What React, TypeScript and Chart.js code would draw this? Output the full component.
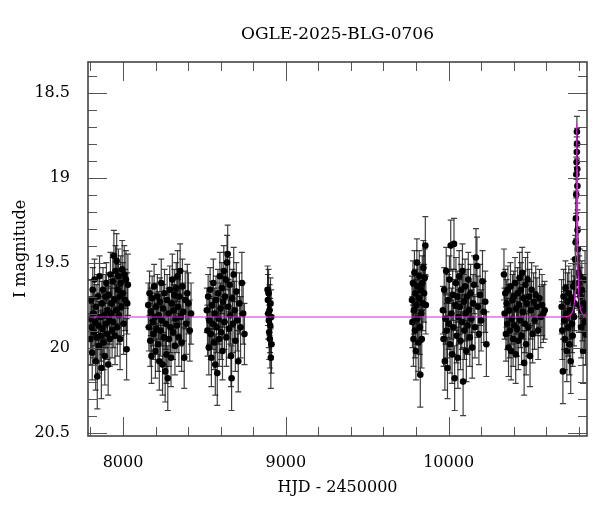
import { useEffect, useRef } from 'react';
import { Chart, registerables } from 'chart.js';

Chart.register(...registerables);

const TITLE = 'OGLE-2025-BLG-0706';
const X_LABEL = 'HJD - 2450000';
const Y_LABEL = 'I magnitude';
const X_MAJOR = [8000, 9000, 10000];
const Y_MAJOR = [18.5, 19, 19.5, 20, 20.5];
const X_MIN = 7785;
const X_MAX = 10850;
const Y_MIN = 18.32;
const Y_MAX = 20.52;

// [HJD-2450000, I mag, error]
const season1 = [
  [7797, 19.83, 0.13], [7800, 19.95, 0.15], [7804, 19.72, 0.12], [7807, 19.88, 0.14], [7811, 20.03, 0.16],
  [7814, 19.66, 0.13], [7818, 19.8, 0.14], [7821, 19.91, 0.15], [7825, 19.6, 0.12], [7828, 19.85, 0.14],
  [7832, 20.08, 0.17], [7835, 19.76, 0.13], [7839, 19.94, 0.15], [7842, 20.17, 0.19], [7846, 19.7, 0.13],
  [7849, 19.87, 0.14], [7853, 19.99, 0.16], [7856, 19.58, 0.12], [7860, 19.82, 0.14], [7863, 19.93, 0.15],
  [7867, 20.12, 0.18], [7870, 19.74, 0.13], [7874, 19.89, 0.15], [7877, 19.66, 0.13], [7881, 19.97, 0.16],
  [7884, 19.81, 0.14], [7888, 20.05, 0.17], [7891, 19.7, 0.13], [7895, 19.86, 0.14], [7898, 19.62, 0.12],
  [7902, 19.92, 0.15], [7905, 19.78, 0.14], [7909, 20.1, 0.18], [7912, 19.69, 0.13], [7916, 19.84, 0.14],
  [7919, 19.95, 0.16], [7923, 19.57, 0.13], [7926, 19.8, 0.15], [7930, 19.74, 0.14], [7933, 19.9, 0.16],
  [7937, 19.61, 0.14], [7940, 19.85, 0.15], [7944, 19.46, 0.15], [7947, 19.72, 0.14], [7951, 19.93, 0.17],
  [7954, 19.55, 0.15], [7958, 19.78, 0.15], [7961, 19.49, 0.16], [7965, 19.88, 0.17], [7968, 19.66, 0.15],
  [7972, 19.58, 0.16], [7975, 19.81, 0.17], [7979, 19.7, 0.16], [7982, 19.95, 0.18], [7986, 19.62, 0.16],
  [7990, 19.76, 0.17], [7995, 19.54, 0.17], [7999, 19.68, 0.18], [8004, 19.86, 0.18], [8008, 19.57, 0.17],
  [8013, 19.72, 0.18], [8018, 19.6, 0.17], [8022, 20.01, 0.18], [8026, 19.74, 0.18], [8030, 19.63, 0.18],
];

const season2 = [
  [8155, 19.75, 0.13], [8159, 19.88, 0.14], [8163, 19.68, 0.13], [8167, 19.96, 0.15], [8171, 19.79, 0.14],
  [8175, 20.05, 0.16], [8179, 19.71, 0.13], [8183, 19.85, 0.14], [8187, 19.92, 0.15], [8191, 19.64, 0.13],
  [8195, 19.82, 0.14], [8199, 20.02, 0.16], [8203, 19.76, 0.14], [8207, 19.89, 0.15], [8211, 19.7, 0.13],
  [8215, 19.98, 0.16], [8219, 19.81, 0.14], [8223, 20.08, 0.17], [8227, 19.73, 0.14], [8231, 19.9, 0.15],
  [8235, 19.62, 0.14], [8239, 19.84, 0.15], [8243, 20.1, 0.18], [8247, 19.77, 0.14], [8251, 19.94, 0.16],
  [8255, 19.68, 0.14], [8259, 20.14, 0.18], [8263, 19.86, 0.15], [8267, 20.04, 0.17], [8271, 19.72, 0.15],
  [8275, 20.18, 0.19], [8279, 19.8, 0.15], [8283, 19.95, 0.16], [8287, 19.66, 0.14], [8291, 19.88, 0.15],
  [8295, 20.06, 0.17], [8299, 19.74, 0.15], [8303, 19.6, 0.15], [8307, 19.91, 0.16], [8311, 19.78, 0.15],
  [8315, 19.69, 0.15], [8319, 19.99, 0.17], [8323, 19.83, 0.16], [8327, 19.65, 0.15], [8331, 19.87, 0.16],
  [8335, 19.58, 0.15], [8339, 19.76, 0.16], [8343, 19.94, 0.17], [8347, 19.7, 0.16], [8351, 19.55, 0.16],
  [8355, 19.82, 0.17], [8360, 19.97, 0.17], [8365, 19.64, 0.16], [8370, 19.79, 0.17], [8376, 20.06, 0.18],
  [8382, 19.72, 0.17], [8388, 19.86, 0.18], [8395, 19.68, 0.17], [8402, 19.74, 0.18], [8410, 19.9, 0.18],
  [8418, 19.8, 0.18],
];

const season3 = [
  [8515, 19.78, 0.13], [8519, 19.9, 0.15], [8523, 19.7, 0.13], [8527, 20.0, 0.16], [8531, 19.84, 0.14],
  [8535, 19.66, 0.13], [8539, 19.92, 0.15], [8543, 20.06, 0.17], [8547, 19.75, 0.14], [8551, 19.86, 0.15],
  [8555, 19.62, 0.14], [8559, 19.97, 0.16], [8563, 19.8, 0.15], [8567, 20.1, 0.18], [8571, 19.72, 0.14],
  [8575, 19.88, 0.15], [8579, 20.15, 0.19], [8583, 19.68, 0.14], [8587, 19.83, 0.15], [8591, 19.95, 0.16],
  [8595, 19.58, 0.14], [8599, 19.77, 0.15], [8603, 19.91, 0.16], [8607, 19.65, 0.15], [8611, 20.02, 0.17],
  [8615, 19.73, 0.15], [8619, 19.55, 0.15], [8623, 19.85, 0.16], [8627, 19.7, 0.15], [8631, 19.6, 0.16],
  [8635, 19.94, 0.17], [8639, 19.5, 0.16], [8643, 19.45, 0.17], [8647, 19.76, 0.16], [8651, 19.89, 0.17],
  [8655, 19.63, 0.16], [8659, 19.81, 0.17], [8663, 20.05, 0.18], [8667, 20.18, 0.19], [8671, 19.71, 0.17],
  [8675, 19.86, 0.17], [8680, 19.57, 0.16], [8685, 19.78, 0.17], [8690, 19.96, 0.18], [8696, 19.67, 0.17],
  [8702, 19.84, 0.18], [8708, 20.08, 0.18], [8715, 19.74, 0.18], [8722, 19.88, 0.18], [8730, 19.62, 0.18],
  [8738, 19.8, 0.18], [8746, 19.92, 0.18],
];

const season4 = [
  [8888, 19.66, 0.14], [8890, 19.72, 0.15], [8892, 19.8, 0.15], [8894, 19.68, 0.14], [8896, 19.84, 0.16],
  [8898, 19.91, 0.16], [8900, 19.78, 0.15], [8902, 19.95, 0.17], [8904, 19.87, 0.16], [8906, 19.74, 0.15],
  [8908, 20.06, 0.18], [8910, 19.82, 0.16], [8912, 19.98, 0.17],
];

const season5 = [
  [9775, 19.72, 0.14], [9778, 19.85, 0.15], [9781, 19.62, 0.13], [9784, 19.95, 0.16], [9787, 19.78, 0.14],
  [9790, 19.56, 0.13], [9793, 19.9, 0.16], [9796, 19.68, 0.14], [9799, 20.02, 0.17], [9802, 19.75, 0.15],
  [9805, 19.5, 0.14], [9808, 19.83, 0.15], [9811, 19.64, 0.14], [9814, 19.97, 0.17], [9817, 19.71, 0.15],
  [9820, 19.58, 0.15], [9823, 19.88, 0.16], [9826, 20.16, 0.19], [9829, 19.66, 0.15], [9832, 19.8, 0.16],
  [9835, 19.95, 0.17], [9838, 19.62, 0.16], [9841, 19.74, 0.16], [9845, 19.53, 0.16], [9849, 19.68, 0.17],
  [9853, 19.59, 0.17], [9857, 19.4, 0.17], [9860, 19.75, 0.17],
];

const season6 = [
  [9965, 19.78, 0.14], [9969, 19.95, 0.16], [9973, 19.66, 0.13], [9977, 20.08, 0.17], [9981, 19.83, 0.15],
  [9985, 19.55, 0.14], [9989, 19.9, 0.16], [9993, 20.12, 0.18], [9997, 19.72, 0.15], [10001, 19.86, 0.15],
  [10005, 19.6, 0.14], [10009, 19.98, 0.17], [10013, 19.4, 0.15], [10017, 19.8, 0.15], [10021, 20.04, 0.17],
  [10025, 19.69, 0.15], [10029, 19.88, 0.16], [10033, 19.39, 0.15], [10037, 20.18, 0.19], [10041, 19.75, 0.15],
  [10045, 19.62, 0.15], [10049, 19.93, 0.16], [10053, 19.7, 0.15], [10057, 20.06, 0.18], [10061, 19.82, 0.16],
  [10065, 19.58, 0.15], [10069, 19.76, 0.16], [10073, 19.96, 0.17], [10077, 19.66, 0.15], [10081, 19.85, 0.16],
  [10085, 19.55, 0.16], [10089, 20.2, 0.2], [10093, 19.73, 0.16], [10097, 19.9, 0.17], [10101, 19.64, 0.16],
  [10105, 19.8, 0.16], [10109, 20.02, 0.18], [10113, 19.7, 0.16], [10117, 19.87, 0.17], [10121, 19.6, 0.16],
  [10125, 19.78, 0.17], [10130, 19.94, 0.17], [10135, 19.68, 0.17], [10140, 19.83, 0.17], [10145, 20.0, 0.18],
  [10150, 19.74, 0.17], [10156, 19.63, 0.17], [10162, 19.88, 0.18], [10168, 19.47, 0.17], [10174, 19.52, 0.17],
  [10180, 19.76, 0.18], [10186, 19.92, 0.18], [10193, 19.69, 0.18], [10200, 19.84, 0.18], [10208, 19.61, 0.18],
  [10216, 19.79, 0.18], [10225, 19.73, 0.18], [10232, 19.98, 0.19],
];

const season7 = [
  [10340, 19.57, 0.15], [10344, 19.8, 0.15], [10348, 19.68, 0.14], [10352, 19.92, 0.16], [10356, 19.74, 0.14],
  [10360, 19.86, 0.15], [10364, 19.66, 0.14], [10368, 20.0, 0.17], [10372, 19.78, 0.15], [10376, 19.9, 0.16],
  [10380, 19.64, 0.14], [10384, 20.02, 0.17], [10388, 19.83, 0.15], [10392, 19.72, 0.15], [10396, 19.95, 0.16],
  [10400, 19.7, 0.15], [10404, 19.87, 0.16], [10408, 19.62, 0.15], [10412, 20.04, 0.17], [10416, 19.77, 0.15],
  [10420, 19.89, 0.16], [10424, 19.68, 0.15], [10428, 19.96, 0.17], [10432, 19.75, 0.16], [10436, 19.59, 0.15],
  [10440, 19.84, 0.16], [10444, 19.66, 0.16], [10448, 19.93, 0.17], [10452, 19.56, 0.15], [10456, 19.79, 0.16],
  [10460, 19.71, 0.16], [10464, 20.09, 0.19], [10468, 19.86, 0.17], [10472, 19.63, 0.16], [10476, 19.98, 0.18],
  [10480, 19.74, 0.16], [10485, 19.6, 0.16], [10490, 19.88, 0.17], [10495, 19.7, 0.16], [10500, 20.05, 0.18],
  [10505, 19.78, 0.17], [10510, 19.66, 0.16], [10516, 19.92, 0.17], [10522, 19.73, 0.17], [10528, 19.84, 0.17],
  [10535, 19.69, 0.17], [10542, 19.76, 0.17], [10550, 19.9, 0.17], [10558, 19.71, 0.17], [10566, 19.82, 0.18],
  [10574, 19.75, 0.18], [10582, 19.8, 0.17], [10590, 19.78, 0.17],
];

const season8 = [
  [10694, 19.76, 0.16], [10698, 19.9, 0.17], [10702, 20.14, 0.19], [10706, 19.7, 0.16], [10710, 19.84, 0.17],
  [10714, 19.95, 0.18], [10718, 19.65, 0.16], [10722, 19.8, 0.17], [10726, 20.02, 0.18], [10730, 19.73, 0.17],
  [10734, 19.88, 0.17], [10738, 19.68, 0.16], [10742, 19.98, 0.18], [10746, 19.78, 0.17], [10750, 20.08, 0.19],
  [10754, 19.71, 0.17], [10758, 19.86, 0.17], [10762, 19.93, 0.18], [10766, 19.64, 0.16], [10770, 19.82, 0.17],
  [10773, 19.74, 0.16],
  [10776, 19.62, 0.15], [10778, 19.48, 0.14], [10780, 19.38, 0.13], [10782, 19.24, 0.12], [10784, 19.1, 0.11],
  [10785, 18.98, 0.1], [10786, 18.91, 0.1], [10787, 18.85, 0.09], [10788, 18.73, 0.09], [10789, 18.8, 0.09],
  [10790, 18.95, 0.1], [10791, 19.05, 0.1], [10792, 19.31, 0.12], [10794, 19.42, 0.13], [10796, 19.56, 0.14],
  [10798, 19.67, 0.15], [10800, 19.75, 0.16],
  [10802, 19.62, 0.16], [10806, 19.58, 0.16], [10810, 19.7, 0.17], [10814, 19.88, 0.18], [10818, 19.66, 0.17],
  [10822, 19.79, 0.17], [10826, 20.02, 0.19], [10830, 19.74, 0.17], [10834, 19.85, 0.18], [10838, 19.6, 0.17],
  [10842, 19.92, 0.18], [10846, 19.77, 0.17],
];

// model light curve (HJD, mag)
const modelT = [7785, 10700, 10740, 10755, 10765, 10772, 10777, 10780, 10782, 10784, 10786, 10787, 10788,
  10789, 10790, 10792, 10794, 10796, 10799, 10804, 10811, 10821, 10836, 10850];
const modelM = [19.82, 19.82, 19.815, 19.8, 19.78, 19.74, 19.67, 19.58, 19.48, 19.33, 19.1, 18.95, 18.68,
  18.95, 19.1, 19.33, 19.48, 19.58, 19.67, 19.74, 19.78, 19.8, 19.815, 19.82];

const SEASONS = [season1, season2, season3, season4, season5, season6, season7, season8];
const FONT = '"DejaVu Serif", "Liberation Serif", serif';

const decorPlugin = {
  id: 'decor',
  beforeDatasetsDraw(chart: any) {
    const { ctx, chartArea: a, scales } = chart;
    const xs = scales.x;
    const ys = scales.y;
    ctx.save();
    ctx.beginPath();
    ctx.rect(a.left, a.top, a.right - a.left, a.bottom - a.top);
    ctx.clip();
    ctx.strokeStyle = 'rgba(15,15,15,0.8)';
    ctx.lineWidth = 1.2;
    for (const s of SEASONS) {
      for (const p of s) {
        const x = xs.getPixelForValue(p[0]);
        const y1 = ys.getPixelForValue(p[1] - p[2]);
        const y2 = ys.getPixelForValue(p[1] + p[2]);
        ctx.beginPath();
        ctx.moveTo(x, y1);
        ctx.lineTo(x, y2);
        ctx.moveTo(x - 3, y1);
        ctx.lineTo(x + 3, y1);
        ctx.moveTo(x - 3, y2);
        ctx.lineTo(x + 3, y2);
        ctx.stroke();
      }
    }
    ctx.restore();
  },
  afterDraw(chart: any) {
    const { ctx, chartArea: a, scales } = chart;
    const xs = scales.x;
    const ys = scales.y;
    ctx.save();
    ctx.strokeStyle = '#555';
    ctx.lineWidth = 1;
    ctx.beginPath();
    for (let v = 7800; v <= X_MAX; v += 200) {
      const x = Math.round(xs.getPixelForValue(v)) + 0.5;
      const len = v % 1000 === 0 ? 19 : 9;
      ctx.moveTo(x, a.top);
      ctx.lineTo(x, a.top + len);
      ctx.moveTo(x, a.bottom);
      ctx.lineTo(x, a.bottom - len);
    }
    for (let i = 184; i <= 205; i++) {
      const v = i / 10;
      if (v < Y_MIN || v > Y_MAX) continue;
      const y = Math.round(ys.getPixelForValue(v)) + 0.5;
      const len = i % 5 === 0 ? 19 : 9;
      ctx.moveTo(a.left, y);
      ctx.lineTo(a.left + len, y);
      ctx.moveTo(a.right, y);
      ctx.lineTo(a.right - len, y);
    }
    ctx.stroke();
    ctx.strokeStyle = '#444';
    ctx.lineWidth = 1.6;
    ctx.strokeRect(a.left, a.top, a.right - a.left, a.bottom - a.top);
    ctx.fillStyle = '#000';
    ctx.textAlign = 'center';
    ctx.textBaseline = 'middle';
    const cx = (a.left + a.right) / 2;
    ctx.font = `17px ${FONT}`;
    ctx.fillText(TITLE, cx, 35);
    ctx.font = `16px ${FONT}`;
    ctx.fillText(X_LABEL, cx, 488);
    ctx.translate(21, (a.top + a.bottom) / 2);
    ctx.rotate(-Math.PI / 2);
    ctx.fillText(Y_LABEL, 0, 0);
    ctx.restore();
  },
};

export default function App() {
  const ref = useRef<HTMLCanvasElement>(null);
  useEffect(() => {
    document.body.style.margin = '0';
    const points = SEASONS.flat().map((p) => ({ x: p[0], y: p[1] }));
    const model = modelT.map((t, i) => ({ x: t, y: modelM[i] }));
    const chart = new Chart(ref.current as HTMLCanvasElement, {
      type: 'scatter',
      data: {
        datasets: [
          {
            label: 'OGLE',
            data: points,
            backgroundColor: '#000',
            borderColor: '#000',
            pointRadius: 3.3,
            borderWidth: 0,
            order: 2,
          },
          {
            label: 'model',
            type: 'line',
            data: model,
            borderColor: '#dd22dd',
            borderWidth: 1.1,
            pointRadius: 0,
            tension: 0,
            fill: false,
            order: 1,
          } as any,
        ],
      },
      options: {
        responsive: false,
        animation: false,
        events: [],
        layout: { padding: { left: 0, right: 13, top: 62, bottom: 0 } },
        plugins: { legend: { display: false }, tooltip: { enabled: false }, title: { display: false } },
        scales: {
          x: {
            type: 'linear',
            min: X_MIN,
            max: X_MAX,
            grid: { display: false },
            border: { display: false },
            afterBuildTicks: (s: any) => {
              s.ticks = X_MAJOR.map((v) => ({ value: v }));
            },
            afterFit: (s: any) => {
              s.height = 76;
            },
            ticks: {
              color: '#000',
              padding: 9,
              maxRotation: 0,
              font: { family: FONT, size: 16 },
              callback: (v: any) => String(v),
            },
          },
          y: {
            type: 'linear',
            reverse: true,
            min: Y_MIN,
            max: Y_MAX,
            grid: { display: false },
            border: { display: false },
            afterBuildTicks: (s: any) => {
              s.ticks = Y_MAJOR.map((v) => ({ value: v }));
            },
            afterFit: (s: any) => {
              s.width = 88;
            },
            ticks: {
              color: '#000',
              padding: 10,
              font: { family: FONT, size: 16 },
              callback: (v: any) => String(v),
            },
          },
        },
      },
      plugins: [decorPlugin],
    });
    return () => chart.destroy();
  }, []);
  return (
    <div style={{ width: 600, height: 512 }}>
      <canvas ref={ref} width={600} height={512} />
    </div>
  );
}
